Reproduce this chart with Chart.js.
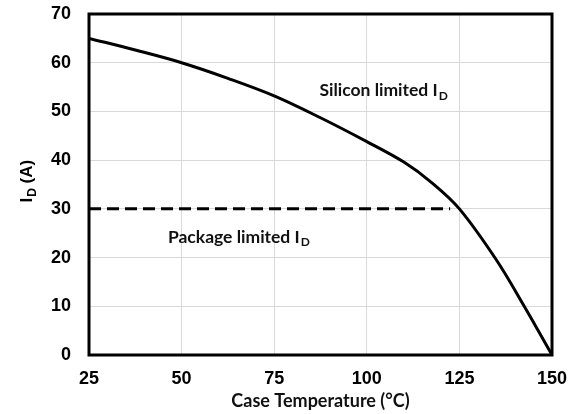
<!DOCTYPE html>
<html>
<head>
<meta charset="utf-8">
<script src="https://cdn.jsdelivr.net/npm/chart.js@4"></script>
<style>
  html, body { margin: 0; padding: 0; background: #fff; }
  #wrap { width: 584px; height: 414px; }
</style>
</head>
<body>
<div id="wrap"><canvas id="idChart"></canvas></div>
<script>
// Drain current derating data
const caseTemp = [25, 37.5, 50, 62.5, 75, 87.5, 100, 110, 117.5, 125, 135, 142.5, 150];
const siliconLimit = [65, 62.6, 60, 56.8, 53.2, 48.7, 43.8, 39.6, 35.4, 30, 19.5, 10, 0];
const packageTemp = [25, 122.5];
const packageLimit = [30, 30];
const xTicks = [25, 50, 75, 100, 125, 150];
const yTicks = [0, 10, 20, 30, 40, 50, 60, 70];

const labelFont = '"Lato", "Open Sans", sans-serif';
const tickFont = '"Liberation Sans", Arial, sans-serif';

// writes "prefix I" with a subscript D and an optional suffix
function drawID(ctx, x, y, prefix, suffix, size, family) {
    ctx.font = 'bold ' + size + 'px ' + family;
    ctx.fillText(prefix + 'I', x, y);
    let w = ctx.measureText(prefix + 'I').width;
    ctx.font = 'bold ' + Math.round(size * 0.68) + 'px ' + family;
    ctx.fillText('D', x + w + 1, y + size * 0.22);
    w += ctx.measureText('D').width + 1;
    if (suffix) {
        ctx.font = 'bold ' + size + 'px ' + family;
        ctx.fillText(suffix, x + w, y);
    }
}

const extras = {
    id: 'extras',
    afterDraw(chart) {
        const { ctx, chartArea: a, scales: { x, y } } = chart;
        ctx.save();
        // frame round the plot area
        ctx.strokeStyle = '#000';
        ctx.lineWidth = 3;
        ctx.strokeRect(a.left, a.top, a.right - a.left, a.bottom - a.top);

        ctx.fillStyle = '#111';
        ctx.textBaseline = 'alphabetic';
        ctx.textAlign = 'left';
        drawID(ctx, x.getPixelForValue(87.2), y.getPixelForValue(54.4) + 6, 'Silicon limited ', '', 17.5, labelFont);
        drawID(ctx, x.getPixelForValue(46.3), y.getPixelForValue(24.3) + 6, 'Package limited ', '', 17.5, labelFont);

        // x axis title
        ctx.font = 'bold 18px ' + labelFont;
        ctx.textAlign = 'center';
        ctx.fillText('Case Temperature (\u00B0C)', (a.left + a.right) / 2, 407);

        // y axis title, rotated
        ctx.translate(32, (a.top + a.bottom) / 2 - 6);
        ctx.rotate(-Math.PI / 2);
        ctx.textAlign = 'left';
        ctx.fillStyle = '#000';
        drawID(ctx, -24, 0, '', ' (A)', 17, tickFont);
        ctx.restore();
    }
};

new Chart(document.getElementById('idChart'), {
    type: 'line',
    data: {
        datasets: [{
            data: caseTemp.map((t, i) => ({ x: t, y: siliconLimit[i] })),
            borderColor: '#000',
            borderWidth: 3,
            pointRadius: 0,
            tension: 0.35
        }, {
            data: packageTemp.map((t, i) => ({ x: t, y: packageLimit[i] })),
            borderColor: '#000',
            borderWidth: 3,
            borderDash: [12, 6],
            pointRadius: 0
        }]
    },
    options: {
        responsive: true,
        maintainAspectRatio: false,
        animation: false,
        layout: { padding: { top: 14, right: 32, left: 0, bottom: 0 } },
        plugins: { legend: { display: false }, tooltip: { enabled: false } },
        scales: {
            x: {
                type: 'linear',
                min: 25,
                max: 150,
                afterBuildTicks: s => { s.ticks = xTicks.map(v => ({ value: v })); },
                afterFit: s => { s.height = 59; s.paddingLeft = 0; s.paddingRight = 0; },
                grid: { color: '#d9d9d9', lineWidth: 1, drawTicks: false },
                border: { display: false },
                ticks: { color: '#000', padding: 13, font: { family: tickFont, size: 18, weight: 'bold' } }
            },
            y: {
                min: 0,
                max: 70,
                afterBuildTicks: s => { s.ticks = yTicks.map(v => ({ value: v })); },
                afterFit: s => { s.width = 89; s.paddingTop = 0; s.paddingBottom = 0; },
                grid: { color: '#d9d9d9', lineWidth: 1, drawTicks: false },
                border: { display: false },
                ticks: { color: '#000', padding: 18, font: { family: tickFont, size: 18, weight: 'bold' } }
            }
        }
    },
    plugins: [extras]
});
</script>
</body>
</html>
